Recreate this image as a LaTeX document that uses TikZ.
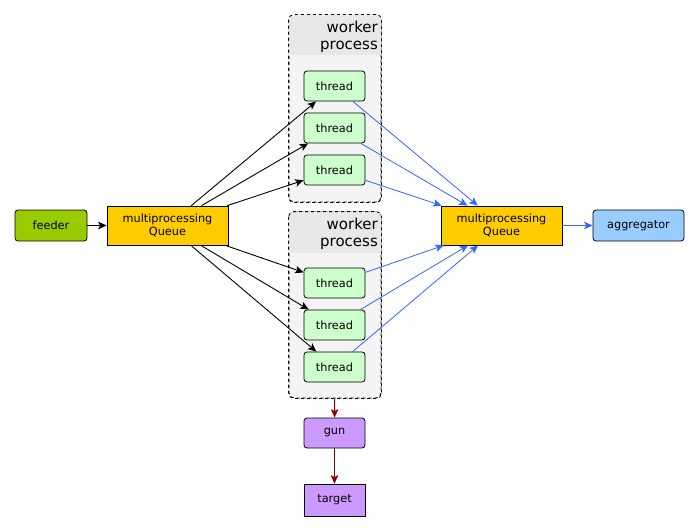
\documentclass[tikz,border=0pt]{standalone}
\usepackage{fontspec}
\setmainfont{DejaVu Sans}
\usetikzlibrary{arrows.meta}
\definecolor{feedgreen}{HTML}{99CC00}
\definecolor{qgold}{HTML}{FFCC00}
\definecolor{thrgreen}{HTML}{CCFFCC}
\definecolor{aggblue}{HTML}{99CCFF}
\definecolor{gunpurple}{HTML}{CC99FF}
\definecolor{clfill}{HTML}{F4F4F4}
\definecolor{clhead}{HTML}{E8E8E8}
\definecolor{edgeblue}{HTML}{3366FF}
\definecolor{edgered}{HTML}{8B0000}
\begin{document}
\begin{tikzpicture}[x=1pt,y=-1pt,
  box/.style={draw, line width=0.8pt, font=\fontsize{11.3}{13.5}\selectfont, inner sep=0pt, align=center},
  rbox/.style={box, rounded corners=3pt},
  threadbox/.style={rbox, fill=thrgreen, minimum width=61pt, minimum height=30pt},
  qbox/.style={box, fill=qgold, minimum width=121pt, minimum height=39pt},
  cluster/.style={draw, dashed, line width=0.8pt, rounded corners=5pt, minimum width=92pt, inner sep=0pt},
  cltext/.style={font=\fontsize{15}{17}\selectfont, align=right, inner sep=0pt, anchor=north east},
  blackarrow/.style={-{Stealth[length=8.5pt,width=7.5pt,inset=2pt]}, line width=0.9pt, black},
  bluearrow/.style={-{Stealth[length=8.5pt,width=7.5pt,inset=2pt]}, line width=0.8pt, edgeblue},
  redarrow/.style={-{Stealth[length=8.5pt,width=7.5pt,inset=2pt]}, line width=0.9pt, edgered}
]
\useasboundingbox (0,0) rectangle (699,532);
% clusters
\node[cluster, fill=clfill, minimum height=187pt] (c1) at (335,108.5) {};
\begin{scope}
  \clip[rounded corners=5pt] (c1.north west) rectangle (c1.south east);
  \fill[clhead] (c1.north west) rectangle ([yshift=-40pt]c1.north east);
\end{scope}
\draw[dashed, line width=0.8pt, rounded corners=5pt] (c1.north west) rectangle (c1.south east);
\node[cltext] (c1lab) at (378,21) {worker\\process};

\node[cluster, fill=clfill, minimum height=186pt] (c2) at (335,305) {};
\begin{scope}
  \clip[rounded corners=5pt] (c2.north west) rectangle (c2.south east);
  \fill[clhead] (c2.north west) rectangle ([yshift=-41pt]c2.north east);
\end{scope}
\draw[dashed, line width=0.8pt, rounded corners=5pt] (c2.north west) rectangle (c2.south east);
\node[cltext] (c2lab) at (378,218) {worker\\process};

% nodes
\node[rbox, fill=feedgreen, minimum width=72pt, minimum height=31pt] (feeder) at (51,225.5) {feeder};
\node[qbox] (q1) at (167.5,225.5) {multiprocessing\\Queue};
\node[qbox] (q2) at (501.5,225.5) {multiprocessing\\Queue};
\node[rbox, fill=aggblue, minimum width=91pt, minimum height=31pt] (agg) at (638.5,225.5) {aggregator};
\node[threadbox] (t1) at (334.5,86) {thread};
\node[threadbox] (t2) at (334.5,128) {thread};
\node[threadbox] (t3) at (334.5,170) {thread};
\node[threadbox] (t4) at (334.5,283) {thread};
\node[threadbox] (t5) at (334.5,325) {thread};
\node[threadbox] (t6) at (334.5,367) {thread};
\node[rbox, fill=gunpurple, minimum width=61pt, minimum height=30pt] (gun) at (334.5,433) {gun};
\node[box, fill=gunpurple, minimum width=61pt, minimum height=32pt] (target) at (334.5,500) {target};

% edges
\draw[blackarrow] (feeder) -- (q1);
\foreach \t in {t1,t2,t3,t4,t5,t6} {
  \draw[blackarrow] (q1) -- (\t);
  \draw[bluearrow] (\t) -- (q2);
}
\draw[bluearrow] (q2) -- (agg);
\draw[redarrow] (c2) -- (gun);
\draw[redarrow] (gun) -- (target);
\end{tikzpicture}
\end{document}
